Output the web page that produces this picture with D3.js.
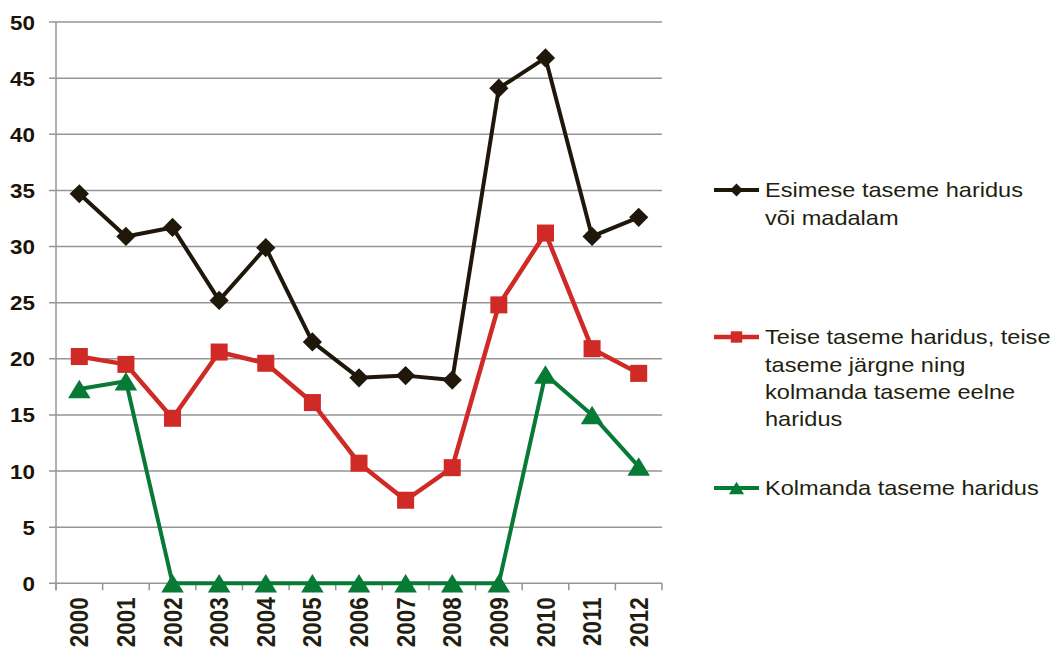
<!DOCTYPE html>
<html>
<head>
<meta charset="utf-8">
<script src="https://cdn.jsdelivr.net/npm/d3@7"></script>
<style>
  body { margin: 0; background: #fff; }
  svg { display: block; font-family: "Liberation Sans", Arial, sans-serif; }
</style>
</head>
<body>
<div id="chart"></div>
<script>
// data
var years = ["2000","2001","2002","2003","2004","2005","2006","2007","2008","2009","2010","2011","2012"];
var esimese = [34.7, 30.9, 31.7, 25.2, 29.9, 21.5, 18.3, 18.5, 18.1, 44.1, 46.8, 30.9, 32.6];
var teise   = [20.2, 19.5, 14.7, 20.6, 19.6, 16.1, 10.7, 7.4, 10.3, 24.8, 31.2, 20.9, 18.7];
var kolmanda = [17.3, 18.0, 0, 0, 0, 0, 0, 0, 0, 0, 18.6, 15.0, 10.4];
var yTicks = [0, 5, 10, 15, 20, 25, 30, 35, 40, 45, 50];
var legendLines = [
    ["Esimese taseme haridus", "või madalam"],
    ["Teise taseme haridus, teise", "taseme järgne ning", "kolmanda taseme eelne", "haridus"],
    ["Kolmanda taseme haridus"]
];

function init() {
    var w = 1055, h = 650;
    var left = 56, right = 662, top = 22, bottom = 583.3;
    var textColor = "#231f10";
    var fontName = "'Liberation Sans', Arial, sans-serif";
    var stretch = "scale(1.15,1)";   // the source picture is a bit wider than tall

    var series = [
        { name: legendLines[0], values: esimese, color: "#1f170a", marker: "diamond", lw: 4 },
        { name: legendLines[1], values: teise, color: "#d02a27", marker: "square", lw: 4.5 },
        { name: legendLines[2], values: kolmanda, color: "#077a35", marker: "triangle", lw: 4 }
    ];

    var x = d3.scaleBand().domain(years).range([left, right]).padding(0);
    var y = d3.scaleLinear().domain([0, 50]).range([bottom, top]);

    var svg = d3.select("#chart").append("svg")
        .attr("width", w)
        .attr("height", h);

    // horizontal gridlines (they also make the left tick marks)
    svg.append("g").attr("class", "grid").selectAll("line")
        .data(yTicks)
        .enter()
        .append("line")
        .attr("x1", left - 7)
        .attr("x2", right)
        .attr("y1", function (d) { return y(d); })
        .attr("y2", function (d) { return y(d); })
        .attr("stroke", "#959595")
        .attr("stroke-width", 1.5);

    // y axis
    var yAxis = svg.append("g")
        .attr("transform", "translate(" + left + ",0)")
        .call(d3.axisLeft(y).tickValues(yTicks).tickSize(0).tickSizeOuter(0));
    yAxis.attr("font-family", null).attr("font-size", null);
    yAxis.select(".domain").remove();
    yAxis.append("line")
        .attr("x1", 0).attr("x2", 0)
        .attr("y1", top).attr("y2", bottom + 7)
        .attr("stroke", "#959595")
        .attr("stroke-width", 1.5);
    yAxis.selectAll(".tick text")
        .attr("x", 0)
        .attr("dy", "0.36em")
        .attr("transform", "translate(-21,0) " + stretch)
        .style("font-family", fontName)
        .style("font-size", "19.5px")
        .style("font-weight", "bold")
        .attr("fill", "#1a1408");

    // x axis: small ticks sit at the category boundaries
    var bounds = years.map(function (d) { return x(d); }).concat([x.range()[1]]);
    svg.append("g").attr("class", "xticks").selectAll("line")
        .data(bounds)
        .enter()
        .append("line")
        .attr("x1", function (d) { return d; })
        .attr("x2", function (d) { return d; })
        .attr("y1", bottom)
        .attr("y2", bottom + 7)
        .attr("stroke", "#959595")
        .attr("stroke-width", 1.5);

    var xAxis = svg.append("g")
        .attr("transform", "translate(0," + bottom + ")")
        .call(d3.axisBottom(x).tickSize(0));
    xAxis.attr("font-family", null).attr("font-size", null);
    xAxis.select(".domain").remove();
    xAxis.selectAll(".tick line").remove();
    xAxis.selectAll(".tick text")
        .attr("x", 0)
        .attr("y", 0)
        .attr("dy", null)
        .attr("text-anchor", "end")
        .attr("dominant-baseline", "central")
        .attr("transform", "translate(0,14) " + stretch + " rotate(-90)")
        .style("font-family", fontName)
        .style("font-size", "22.5px")
        .style("font-weight", "bold")
        .attr("fill", textColor);

    // marker shapes
    var triangle = {
        draw: function (ctx, size) {
            var s = Math.sqrt(size);
            ctx.moveTo(0, -s * 0.45);
            ctx.lineTo(s * 0.55, s * 0.45);
            ctx.lineTo(-s * 0.55, s * 0.45);
            ctx.closePath();
        }
    };
    function markerPath(type, big) {
        if (type == "diamond") return d3.symbol().type(d3.symbolSquare).size(big ? 185 : 85)();
        if (type == "square") return d3.symbol().type(d3.symbolSquare).size(big ? 290 : 130)();
        return d3.symbol().type(triangle).size(big ? 420 : 190)();
    }
    function markerTransform(type, px, py) {
        return "translate(" + px + "," + py + ")" + (type == "diamond" ? " rotate(45)" : "");
    }

    var line = d3.line()
        .x(function (d, i) { return x(years[i]) + x.bandwidth() / 2; })
        .y(function (d) { return y(d); });

    series.forEach(function (s) {
        var g = svg.append("g");
        g.append("path")
            .datum(s.values)
            .attr("d", line)
            .attr("fill", "none")
            .attr("stroke", s.color)
            .attr("stroke-width", s.lw)
            .attr("stroke-linejoin", "round");
        g.selectAll(".mk")
            .data(s.values)
            .enter()
            .append("path")
            .attr("class", "mk")
            .attr("d", markerPath(s.marker, true))
            .attr("transform", function (d, i) {
                return markerTransform(s.marker, x(years[i]) + x.bandwidth() / 2, y(d));
            })
            .attr("fill", s.color);
    });

    // legend
    var legendTop = [190, 337, 488];
    var lineGap = 27.3;
    series.forEach(function (s, k) {
        var g = svg.append("g").attr("transform", "translate(0," + legendTop[k] + ")");
        g.append("line")
            .attr("x1", 714).attr("x2", 759)
            .attr("y1", 0).attr("y2", 0)
            .attr("stroke", s.color)
            .attr("stroke-width", s.lw);
        g.append("path")
            .attr("d", markerPath(s.marker, false))
            .attr("transform", markerTransform(s.marker, 736.5, 0))
            .attr("fill", s.color);
        g.selectAll("text")
            .data(s.name)
            .enter()
            .append("text")
            .attr("transform", function (d, i) {
                return "translate(765," + (7.3 + i * lineGap) + ") " + stretch;
            })
            .style("font-size", "20.5px")
            .attr("fill", textColor)
            .text(function (d) { return d; });
    });
}

window.onload = init;
</script>
</body>
</html>
